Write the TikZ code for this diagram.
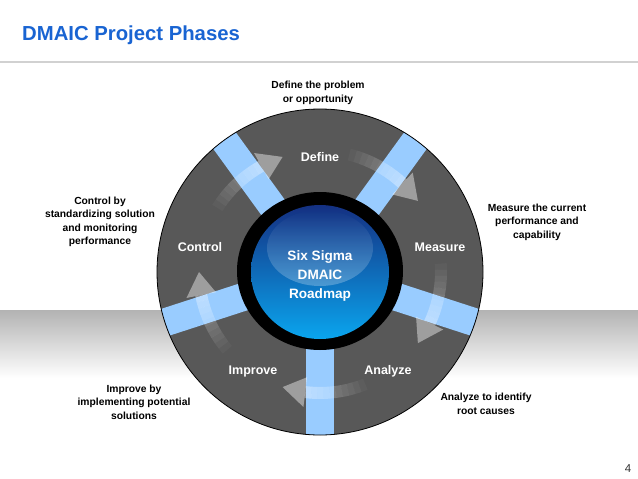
\documentclass[tikz,border=0pt]{standalone}
\usepackage{fontspec}
\setmainfont{Liberation Sans}
\usepackage{tikz}
\usetikzlibrary{fadings}
\definecolor{titleblue}{RGB}{25,100,210}
\definecolor{wheelgray}{RGB}{88,88,88}
\definecolor{stripblue}{RGB}{153,204,255}
\definecolor{hubtop}{RGB}{20,48,130}
\definecolor{hubmid}{RGB}{12,90,190}
\definecolor{hubbottom}{RGB}{10,165,238}

\begin{document}
\begin{tikzpicture}[x=1pt, y=1pt,
  phase/.style={text=white, font=\bfseries\fontsize{12.5}{14}\selectfont},
  note/.style={align=center, font=\bfseries\fontsize{10.3}{13.5}\selectfont}]
\useasboundingbox (0,0) rectangle (638,-479);
\node[anchor=base west, inner sep=0, text=titleblue, font=\bfseries\fontsize{20.3}{24}\selectfont] (title) at (22,-40.5) {DMAIC Project Phases};
\draw[line width=1.5, black!18] (0,-62)--(638,-62);
\shade[top color=black!30, bottom color=white] (0,-310) rectangle (638,-378);

\begin{scope}[shift={(320,-272)}]
\fill[wheelgray] (0,0) circle (163);
\begin{scope}
\clip (0,0) circle (163);
\foreach \a in {126,54,-18,-90,-162}
  \fill[stripblue, rotate=\a] (60,-14) rectangle (170,14);
\end{scope}
\draw[line width=0.8] (0,0) circle (163);
% arrows, fading toward the tail
\foreach \a in {126,54,-18,-90,-162} {
  \foreach \i in {0,...,9} {
    \pgfmathsetmacro{\s}{\a+22-2.9*\i}
    \pgfmathsetmacro{\e}{\a+19.1-2.9*\i}
    \pgfmathsetmacro{\op}{0.035*\i+0.03}
    \fill[white, opacity=\op] (\s:115) arc[start angle=\s, end angle=\e, radius=115]
      -- (\e:127) arc[start angle=\e, end angle=\s, radius=127] -- cycle;
  }
  \pgfmathsetmacro{\hb}{\a-7}
  \pgfmathsetmacro{\ht}{\a-18}
  \fill[white, opacity=0.42] (\hb:106)--(\ht:121)--(\hb:136)--cycle;
}
\fill[black] (0,1) ellipse [x radius=83, y radius=79];
\shade[top color=hubtop, middle color=hubmid, bottom color=hubbottom] (0,0) ellipse [x radius=69, y radius=67];
\fill[white, opacity=0.26, path fading=north] (0,24) ellipse [x radius=53, y radius=38];
\node[text=white, align=center, font=\bfseries\fontsize{13.6}{19}\selectfont] (hub) at (0,-4) {Six Sigma\\DMAIC\\Roadmap};
\node[phase] (define) at (0,115) {Define};
\node[phase] (measure) at (120,25) {Measure};
\node[phase] (analyze) at (68,-99) {Analyze};
\node[phase] (improve) at (-67,-99) {Improve};
\node[phase] (control) at (-120,25) {Control};
\end{scope}

\node[note] (definenote) at (318,-93) {Define the problem\\or opportunity};
\node[note] (measurenote) at (537,-222) {Measure the current\\performance and\\capability};
\node[note] (analyzenote) at (486,-404) {Analyze to identify\\root causes};
\node[note] (improvenote) at (134,-402) {Improve by\\implementing potential\\solutions};
\node[note] (controlnote) at (100,-222) {Control by\\standardizing solution\\and monitoring\\performance};
\node[text=black!80, font=\fontsize{11.5}{13}\selectfont] (pagenum) at (628,-469) {4};
\end{tikzpicture}
\end{document}
